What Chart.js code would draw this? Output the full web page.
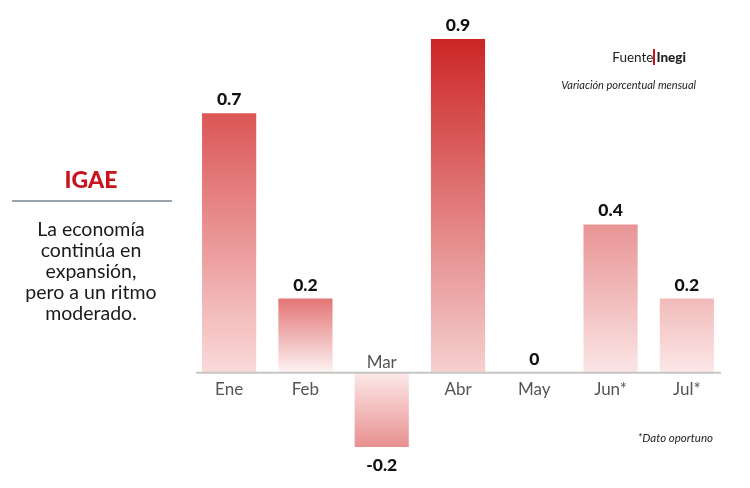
<!DOCTYPE html>
<html lang="es">
<head>
<meta charset="UTF-8">
<title>IGAE</title>
<script src="https://cdn.jsdelivr.net/npm/chart.js"></script>
<style>
  html, body { margin: 0; padding: 0; background: #fff; }
  .wrap { position: relative; width: 750px; height: 488px; font-family: Lato, sans-serif; }
  #chart { position: absolute; left: 0; top: 0; }
  .side { position: absolute; left: 10px; top: 163px; width: 162px; text-align: center; }
  .side h2 { margin: 0; color: #c8141c; font-size: 23px; font-weight: 900; line-height: 32px; }
  .side hr { border: none; border-top: 2px solid #9aa4ad; margin: 5px 0 0 2px; }
  .side p { margin: 16px 0 0 0; font-size: 19.5px; line-height: 21px; color: #1a1a1a; }
  .src { position: absolute; right: 64px; top: 49px; font-size: 13.5px; color: #222; }
  .src b { font-weight: 900; border-left: 2px solid #c8141c; padding-left: 1px; }
  .sub { position: absolute right: 54px; }
  .sub { position: absolute; right: 54px; top: 78px; font-size: 11px; font-style: italic; color: #222; }
  .note { position: absolute; right: 37px; top: 431px; font-size: 11.5px; font-style: italic; color: #222; }
</style>
</head>
<body>
<div class="wrap">
  <canvas id="chart" width="750" height="488"></canvas>
  <div class="side">
    <h2>IGAE</h2>
    <hr>
    <p>La economía<br>continúa en<br>expansión,<br>pero a un ritmo<br>moderado.</p>
  </div>
  <div class="src">Fuente<b>Inegi</b></div>
  <div class="sub">Variación porcentual mensual</div>
  <div class="note">*Dato oportuno</div>
</div>
<script>
const months = ['Ene', 'Feb', 'Mar', 'Abr', 'May', 'Jun*', 'Jul*'];
const values = [0.7, 0.2, -0.2, 0.9, 0, 0.4, 0.2];
const valueLabels = ['0.7', '0.2', '-0.2', '0.9', '0', '0.4', '0.2'];

// strong end (far from axis) and pale end (at axis) of each bar
const strong = ['#db5656', '#e37575', '#e99090', '#cc2525', '#e89494', '#e89494', '#f2baba'];
const pale   = ['#fadada', '#fdf3f3', '#fce8e8', '#f6d0d0', '#fbe5e5', '#fbe5e5', '#fce8e8'];

function barFill(ctx) {
  const chart = ctx.chart;
  const area = chart.chartArea;
  if (!area) return strong[ctx.dataIndex];
  const y = chart.scales.y;
  const v = values[ctx.dataIndex];
  const y0 = y.getPixelForValue(0);
  const y1 = y.getPixelForValue(v);
  if (y0 === y1) return strong[ctx.dataIndex];
  const g = chart.ctx.createLinearGradient(0, y1, 0, y0);
  g.addColorStop(0, strong[ctx.dataIndex]);
  g.addColorStop(1, pale[ctx.dataIndex]);
  return g;
}

const textPlugin = {
  id: 'texts',
  afterDatasetsDraw(chart) {
    const c = chart.ctx;
    const x = chart.scales.x;
    const y = chart.scales.y;
    const y0 = y.getPixelForValue(0);
    c.save();
    // zero line
    c.strokeStyle = '#c6c6c6';
    c.lineWidth = 2;
    c.beginPath();
    c.moveTo(196, y0);
    c.lineTo(721, y0);
    c.stroke();

    c.textAlign = 'center';
    values.forEach((v, i) => {
      const cx = x.getPixelForValue(i);
      const vy = y.getPixelForValue(v);
      c.fillStyle = '#111';
      c.font = '900 17.5px Lato';
      if (v < 0) {
        c.textBaseline = 'top';
        c.fillText(valueLabels[i], cx, vy + 10);
      } else {
        c.textBaseline = 'bottom';
        c.fillText(valueLabels[i], cx, vy - 5);
      }
      c.fillStyle = '#555';
      c.font = '17px Lato';
      if (v < 0) {
        c.textBaseline = 'bottom';
        c.fillText(months[i], cx, y0 - 2);
      } else {
        c.textBaseline = 'top';
        c.fillText(months[i], cx, y0 + 8);
      }
    });
    c.restore();
  }
};

new Chart(document.getElementById('chart'), {
  type: 'bar',
  data: {
    labels: months,
    datasets: [{
      data: values,
      backgroundColor: barFill,
      borderWidth: 0,
      barPercentage: 0.71,
      categoryPercentage: 1
    }]
  },
  options: {
    responsive: false,
    animation: false,
    layout: { padding: { left: 191, right: 25, top: 2, bottom: 4 } },
    plugins: { legend: { display: false }, tooltip: { enabled: false } },
    scales: {
      x: { display: false },
      y: { display: false, min: -0.3, max: 1.0 }
    }
  },
  plugins: [textPlugin]
});
</script>
</body>
</html>
